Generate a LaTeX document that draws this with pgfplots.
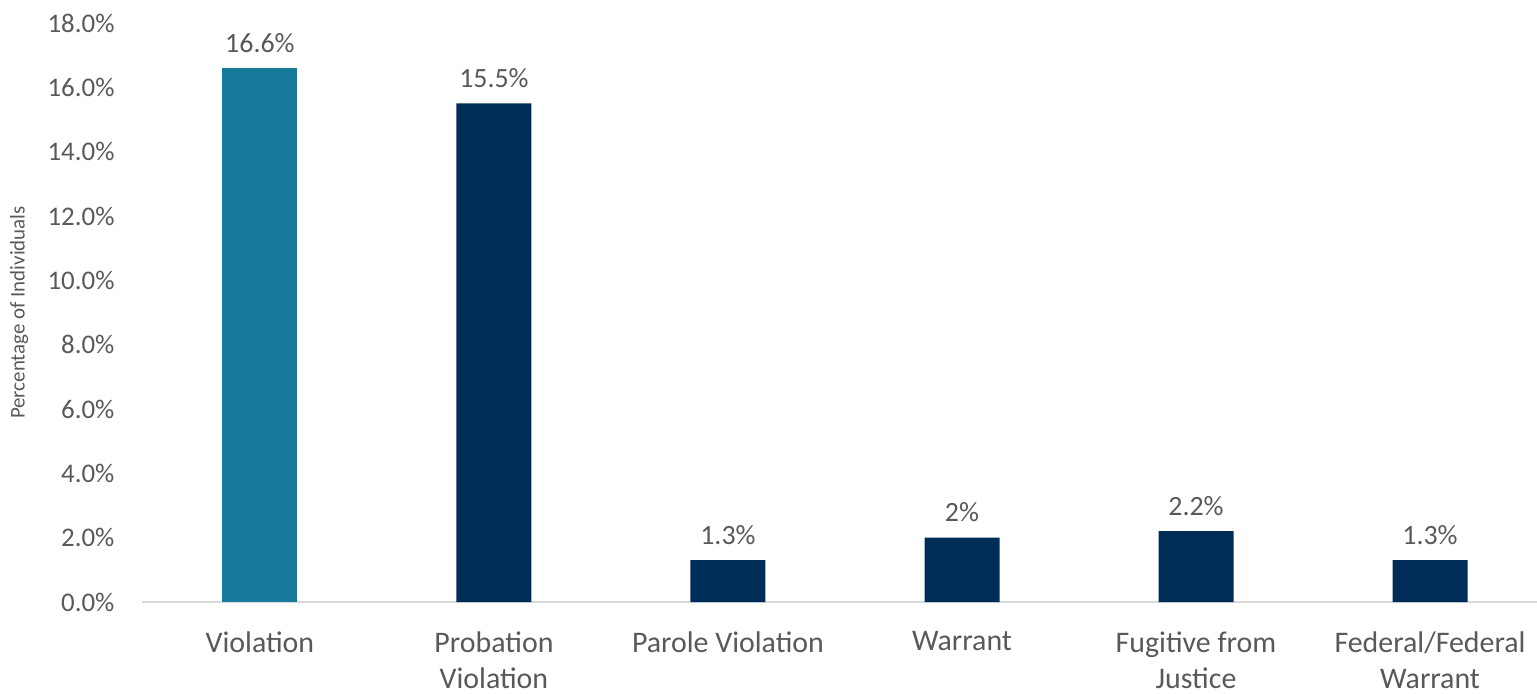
\documentclass[border=0pt]{standalone}
\usepackage{fontspec}
\setmainfont{Carlito}
\usepackage{pgfplots}
\pgfplotsset{compat=1.18}
\usepackage{pgfplotstable}
\definecolor{tealbar}{HTML}{187A9B}
\definecolor{navybar}{HTML}{002D57}
\definecolor{txtgray}{HTML}{595959}
\definecolor{linegray}{HTML}{D9D9D9}

\pgfplotstableread{
x y lab
0 16.6 16.6\%
}\firstbar
\pgfplotstableread{
x y lab
1 15.5 15.5\%
2 1.3 1.3\%
3 2.0 2\%
4 2.2 2.2\%
5 1.3 1.3\%
}\otherbars

\begin{document}
\begin{tikzpicture}
\begin{axis}[
  scale only axis,
  width=1395bp, height=579bp,
  xmin=-0.504, xmax=5.457,
  ymin=0, ymax=18,
  ytick={0,2,...,18},
  xtick={0,...,5},
  xticklabels={Violation,{Probation\\Violation},Parole Violation,Warrant,{Fugitive from\\Justice},{Federal/Federal\\Warrant}},
  axis x line=bottom, axis y line=left,
  axis line style={-},
  x axis line style={draw=linegray, line width=1.5bp},
  y axis line style={draw=none},
  major tick length=0,
  /pgf/number format/assume math mode=true,
  /pgf/number format/fixed, /pgf/number format/fixed zerofill,
  /pgf/number format/precision=1,
  yticklabel={\pgfmathprintnumber{\tick}\%},
  yticklabel style={font=\fontsize{27}{33}\selectfont, text=txtgray, xshift=-24bp},
  xticklabel style={font=\fontsize{30}{36}\selectfont, text=txtgray, align=center, yshift=-26bp},
  ylabel={Percentage of Individuals},
  ylabel style={at={(axis description cs:-0.088,0.5)}, anchor=center, font=\fontsize{21}{24}\selectfont, text=txtgray},
  ybar, bar width=75bp, bar shift=0pt,
  nodes near coords,
  point meta=explicit symbolic,
  every node near coord/.append style={font=\fontsize{28}{34}\selectfont, text=txtgray, yshift=12bp},
]
\addplot[fill=tealbar, draw=none] table[x=x, y=y, meta=lab] {\firstbar};
\addplot[fill=navybar, draw=none] table[x=x, y=y, meta=lab] {\otherbars};
\end{axis}
\pgfresetboundingbox
\path (-142bp,-92bp) rectangle (1395bp,602bp);
\end{tikzpicture}
\end{document}
